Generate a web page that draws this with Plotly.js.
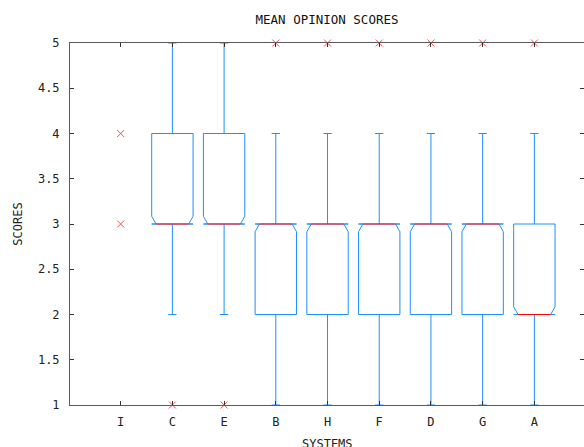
<!DOCTYPE html>
<html>
<head>
<meta charset="utf-8">
<script src="https://cdn.plot.ly/plotly-3.0.1.min.js"></script>
<style>html,body{margin:0;padding:0;background:#fff}#chart{width:584px;height:447px}</style>
</head>
<body>
<div id="chart"></div>
<script>
// ---- data ----
var systems      = ['I', 'C', 'E', 'B', 'H', 'F', 'D', 'G', 'A'];
var q1           = [null, 3, 3, 2, 2, 2, 2, 2, 2];
var median       = [null, 3, 3, 3, 3, 3, 3, 3, 2];
var q3           = [null, 4, 4, 3, 3, 3, 3, 3, 3];
var whiskerLow   = [null, 2, 2, 1, 1, 1, 1, 1, 1];
var whiskerHigh  = [null, 5, 5, 4, 4, 4, 4, 4, 4];
var outliers     = [[3, 4], [1], [1], [5], [5], [5], [5], [5], [5]];
var notchSpan    = 0.085;   // notch half-height in score units

// ---- styles ----
var BOX_HALF = 0.40, NOTCH_INSET = 0.085, CAP_HALF = 0.08;
var BLUE = '#1f8fff', RED = '#ff0000', AXIS = '#5a5a5a';
var FONT = 'DejaVu Sans Mono, Liberation Mono, monospace';

var boxX = [], boxY = [], medX = [], medY = [], whX = [], whY = [], outX = [], outY = [];
systems.forEach(function (s, i) {
  var x = i + 1;
  outliers[i].forEach(function (v) { outX.push(x); outY.push(v); });
  if (q1[i] === null) return;
  var lo = Math.max(q1[i], median[i] - notchSpan);
  var hi = Math.min(q3[i], median[i] + notchSpan);
  var L = x - BOX_HALF, R = x + BOX_HALF;
  boxX.push(L, L, L + NOTCH_INSET, L, L, R, R, R - NOTCH_INSET, R, R, L, null);
  boxY.push(q3[i], hi, median[i], lo, q1[i], q1[i], lo, median[i], hi, q3[i], q3[i], null);
  medX.push(L + NOTCH_INSET, R - NOTCH_INSET, null);
  medY.push(median[i], median[i], null);
  // whiskers + caps
  whX.push(x, x, null, x - CAP_HALF, x + CAP_HALF, null, x, x, null, x - CAP_HALF, x + CAP_HALF, null);
  whY.push(q3[i], whiskerHigh[i], null, whiskerHigh[i], whiskerHigh[i], null,
           q1[i], whiskerLow[i], null, whiskerLow[i], whiskerLow[i], null);
});

var traces = [
  {x: whX, y: whY, mode: 'lines', line: {color: BLUE, width: 1}, hoverinfo: 'skip', cliponaxis: false},
  {x: boxX, y: boxY, mode: 'lines', line: {color: BLUE, width: 1}, hoverinfo: 'skip'},
  {x: medX, y: medY, mode: 'lines', line: {color: RED, width: 1}, hoverinfo: 'skip'},
  {x: outX, y: outY, mode: 'markers', cliponaxis: false,
   marker: {symbol: 'x-thin', size: 7, line: {color: '#ff4a4a', width: 1}}, hoverinfo: 'skip'}
];

var layout = {
  width: 584, height: 447,
  margin: {l: 70, r: 0, t: 43, b: 42},
  paper_bgcolor: '#fff', plot_bgcolor: '#fff',
  showlegend: false,
  font: {family: FONT, size: 12, color: '#222'},
  title: {text: 'MEAN OPINION SCORES', x: 0.5, xref: 'paper', y: 1, yref: 'container',
          yanchor: 'top', pad: {t: 15}, font: {family: FONT, size: 12.5, color: '#111'}},
  annotations: [{
    text: 'SYSTEMS', xref: 'paper', yref: 'paper', x: 0.5, y: 0,
    xanchor: 'center', yanchor: 'top', yshift: -30, showarrow: false,
    font: {family: FONT, size: 12, color: '#222'}
  }],
  xaxis: {
    range: [0.02, 9.96], tickmode: 'array',
    tickvals: systems.map(function (s, i) { return i + 1; }), ticktext: systems,
    ticks: 'inside', ticklen: 4, tickcolor: '#333', tickwidth: 1,
    showline: true, linecolor: AXIS, linewidth: 1, mirror: 'ticks',
    showgrid: false, zeroline: false, ticklabelstandoff: 6,
    automargin: false
  },
  yaxis: {
    range: [1, 5], tickmode: 'array',
    tickvals: [1, 1.5, 2, 2.5, 3, 3.5, 4, 4.5, 5],
    ticktext: ['1', '1.5', '2', '2.5', '3', '3.5', '4', '4.5', '5'],
    ticks: 'inside', ticklen: 4, tickcolor: '#333', tickwidth: 1,
    showline: true, linecolor: AXIS, linewidth: 1, mirror: 'ticks',
    showgrid: false, zeroline: false, ticklabelstandoff: 7,
    title: {text: 'SCORES', standoff: 12, font: {family: FONT, size: 12, color: '#222'}},
    automargin: false
  }
};

Plotly.newPlot('chart', traces, layout, {staticPlot: true, displayModeBar: false});
</script>
</body>
</html>
